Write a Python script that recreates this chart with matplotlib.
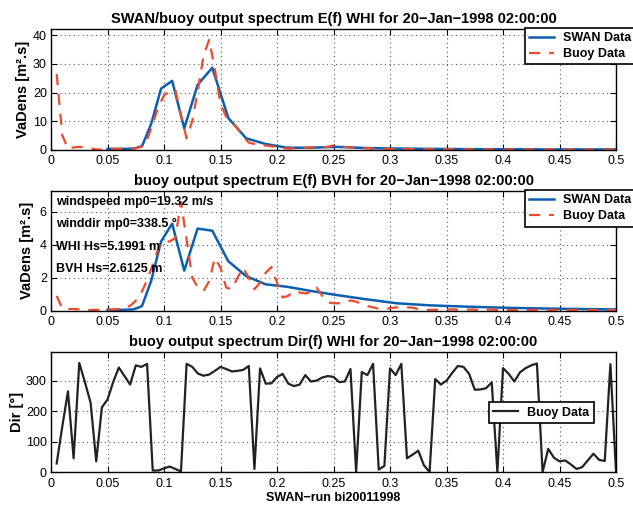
import numpy as np
import matplotlib
matplotlib.use('Agg')
import matplotlib.pyplot as plt

plt.rcParams['font.family'] = ['Liberation Sans', 'DejaVu Sans']

# SWAN output frequencies (log spaced)
swan_freq = [0.05, 0.055, 0.0605, 0.0666, 0.0732, 0.0805, 0.0886, 0.0974,
             0.1072, 0.1179, 0.1297, 0.1427, 0.1569, 0.1726, 0.1899, 0.2089,
             0.2297, 0.2527, 0.2780, 0.3058, 0.3363, 0.3700, 0.4070, 0.4477,
             0.4924, 0.5416]
# buoy frequencies, 0.005 Hz bins
buoy_freq = np.arange(1, 101) * 0.005

swan_whi = [0.3, 0.3, 0.3, 0.3, 0.4, 1.2, 9.0, 21.4, 24.1, 7.5, 22.7, 28.7,
            11.1, 4.0, 2.0, 0.7, 0.7, 1.0, 0.6, 0.4, 0.3, 0.2, 0.15, 0.1,
            0.1, 0.1]
buoy_whi = [26.5, 5.0, 0.3, 0.8, 1.0, 0.8, 0.5, 0.1, 0.0, 0.2,
            0.3, 0.3, 0.4, 0.3, 0.5, 1.2, 3.5, 9.0, 15.0, 19.0,
            20.5, 21.0, 12.0, 4.0, 10.0, 21.0, 33.0, 38.5, 28.0, 16.0,
            11.5, 9.5, 7.5, 4.5, 2.5, 2.0, 1.5, 1.5, 1.2, 1.0,
            0.6, 0.4, 0.5, 0.6, 0.7, 0.8, 0.7, 0.8, 1.0, 1.5,
            1.3, 1.0, 0.8, 0.6, 0.6, 0.5, 0.4, 0.4, 0.3, 0.3,
            0.3, 0.25, 0.25, 0.2, 0.2, 0.2, 0.15, 0.15, 0.15, 0.12,
            0.12, 0.1, 0.1, 0.1, 0.1, 0.08, 0.08, 0.08, 0.07, 0.07,
            0.07, 0.06, 0.06, 0.06, 0.05, 0.05, 0.05, 0.05, 0.05, 0.04,
            0.04, 0.04, 0.04, 0.04, 0.03, 0.03, 0.03, 0.03, 0.03, 0.03]

swan_bvh = [0.05, 0.05, 0.05, 0.06, 0.08, 0.28, 1.8, 4.2, 5.28, 2.43, 4.98,
            4.85, 3.0, 2.1, 1.6, 1.45, 1.2, 0.95, 0.7, 0.45, 0.32, 0.24,
            0.17, 0.12, 0.08, 0.06]
buoy_bvh = [0.9, 0.12, 0.1, 0.1, 0.08, 0.05, 0.04, 0.05, 0.06, 0.06,
            0.08, 0.1, 0.15, 0.3, 0.6, 1.1, 1.85, 2.8, 3.8, 4.2,
            4.2, 4.4, 6.6, 4.3, 2.0, 1.4, 1.2, 1.8, 3.2, 2.6,
            1.4, 1.3, 2.0, 2.6, 2.0, 1.3, 1.7, 2.3, 2.65, 1.7,
            0.8, 0.9, 1.2, 1.1, 1.05, 1.1, 1.4, 0.9, 0.5, 0.45,
            0.45, 0.5, 0.62, 0.55, 0.4, 0.28, 0.2, 0.12, 0.1, 0.15,
            0.2, 0.2, 0.2, 0.18, 0.1, 0.06, 0.05, 0.06, 0.05, 0.07,
            0.08, 0.06, 0.05, 0.07, 0.06, 0.05, 0.06, 0.07, 0.05, 0.06,
            0.05, 0.04, 0.06, 0.05, 0.04, 0.05, 0.05, 0.04, 0.05, 0.04,
            0.04, 0.05, 0.04, 0.04, 0.03, 0.04, 0.04, 0.03, 0.04, 0.03]

dir_whi = [28, 150, 265, 45, 358, 295, 228, 35, 212, 238,
           295, 343, 315, 287, 350, 345, 355, 5, 5, 12,
           18, 10, 2, 355, 345, 323, 316, 320, 332, 345,
           338, 330, 332, 335, 348, 10, 340, 290, 291, 312,
           322, 290, 282, 287, 318, 297, 300, 310, 315, 312,
           295, 297, 338, 0, 328, 318, 355, 8, 20, 340,
           318, 355, 45, 57, 70, 22, 0, 305, 287, 300,
           325, 348, 345, 322, 270, 271, 275, 294, 0, 341,
           322, 297, 327, 341, 350, 356, 0, 76, 47, 35,
           38, 25, 10, 16, 38, 60, 40, 36, 354, 0]

info_lines = ['windspeed mp0=19.32 m/s', 'winddir mp0=338.5 \u00b0',
              'WHI Hs=5.1991 m', 'BVH Hs=2.6125 m']

blue = '#0b5fae'
red = '#ef4a2c'
xticks = [0, 0.05, 0.1, 0.15, 0.2, 0.25, 0.3, 0.35, 0.4, 0.45, 0.5]

fig = plt.figure(figsize=(6.33, 5.07), dpi=100)
ax1 = fig.add_axes([0.0806, 0.7047, 0.8926, 0.2387])
ax2 = fig.add_axes([0.0806, 0.3872, 0.8926, 0.2361])
ax3 = fig.add_axes([0.0806, 0.0690, 0.8926, 0.2367])


def style(ax, ymax, yticks):
    ax.set_xlim(0, 0.5)
    ax.set_ylim(0, ymax)
    ax.set_xticks(xticks)
    ax.set_xticklabels(['0', '0.05', '0.1', '0.15', '0.2', '0.25', '0.3',
                        '0.35', '0.4', '0.45', '0.5'])
    ax.set_yticks(yticks)
    ax.grid(True, linestyle=(0, (1, 3)), color='#555555', linewidth=0.8)
    ax.tick_params(direction='in', top=True, right=True, labelsize=9,
                   length=4, width=0.8)
    ax.tick_params(axis='x', pad=4)
    ax.tick_params(axis='y', pad=3)
    for s in ax.spines.values():
        s.set_linewidth(1.0)


def legend(ax, anchor):
    leg = ax.legend(loc='upper left', bbox_to_anchor=anchor, fancybox=False,
                    edgecolor='black', framealpha=1, borderaxespad=0,
                    prop={'weight': 'bold', 'size': 9}, handlelength=2.0,
                    borderpad=0.35, labelspacing=0.3, handletextpad=0.7)
    leg.get_frame().set_linewidth(1.2)


ax1.plot(swan_freq, swan_whi, color=blue, lw=1.8, label='SWAN Data')
ax1.plot(buoy_freq, buoy_whi, color=red, lw=1.6, ls=(0, (5, 4)), label='Buoy Data')
style(ax1, 1.1 * max(buoy_whi), [0, 10, 20, 30, 40])
ax1.set_ylabel('VaDens [m\u00b2.s]', fontweight='bold', fontsize=10.5)
ax1.yaxis.set_label_coords(-0.037, 0.5)
ax1.set_title('SWAN/buoy output spectrum E(f) WHI for 20\u2212Jan\u22121998 02:00:00',
              fontweight='bold', fontsize=10.5, pad=4)
legend(ax1, (0.839, 1.006))

ax2.plot(swan_freq, swan_bvh, color=blue, lw=1.8, label='SWAN Data')
ax2.plot(buoy_freq, buoy_bvh, color=red, lw=1.6, ls=(0, (5, 4)), label='Buoy Data')
style(ax2, 1.1 * max(buoy_bvh), [0, 2, 4, 6])
ax2.set_ylabel('VaDens [m\u00b2.s]', fontweight='bold', fontsize=10.5)
ax2.yaxis.set_label_coords(-0.030, 0.5)
ax2.set_title('buoy output spectrum E(f) BVH for 20\u2212Jan\u22121998 02:00:00',
              fontweight='bold', fontsize=10.5, pad=4)
legend(ax2, (0.839, 1.008))
for i, line in enumerate(info_lines):
    ax2.text(0.009, 0.91 - i * 0.188, line, transform=ax2.transAxes,
             fontweight='bold', fontsize=9, va='center')

ax3.plot(buoy_freq, dir_whi, color='#222222', lw=1.6, label='Buoy Data')
style(ax3, 1.1 * max(dir_whi), [0, 100, 200, 300])
ax3.set_ylabel('Dir [\u00b0]', fontweight='bold', fontsize=10.5)
ax3.yaxis.set_label_coords(-0.048, 0.5)
ax3.set_xlabel('SWAN\u2212run bi20011998', fontweight='bold', fontsize=9, labelpad=2)
ax3.set_title('buoy output spectrum Dir(f) WHI for 20\u2212Jan\u22121998 02:00:00',
              fontweight='bold', fontsize=10.5, pad=4)
legend(ax3, (0.775, 0.58))

fig.savefig('out.png', dpi=100)
